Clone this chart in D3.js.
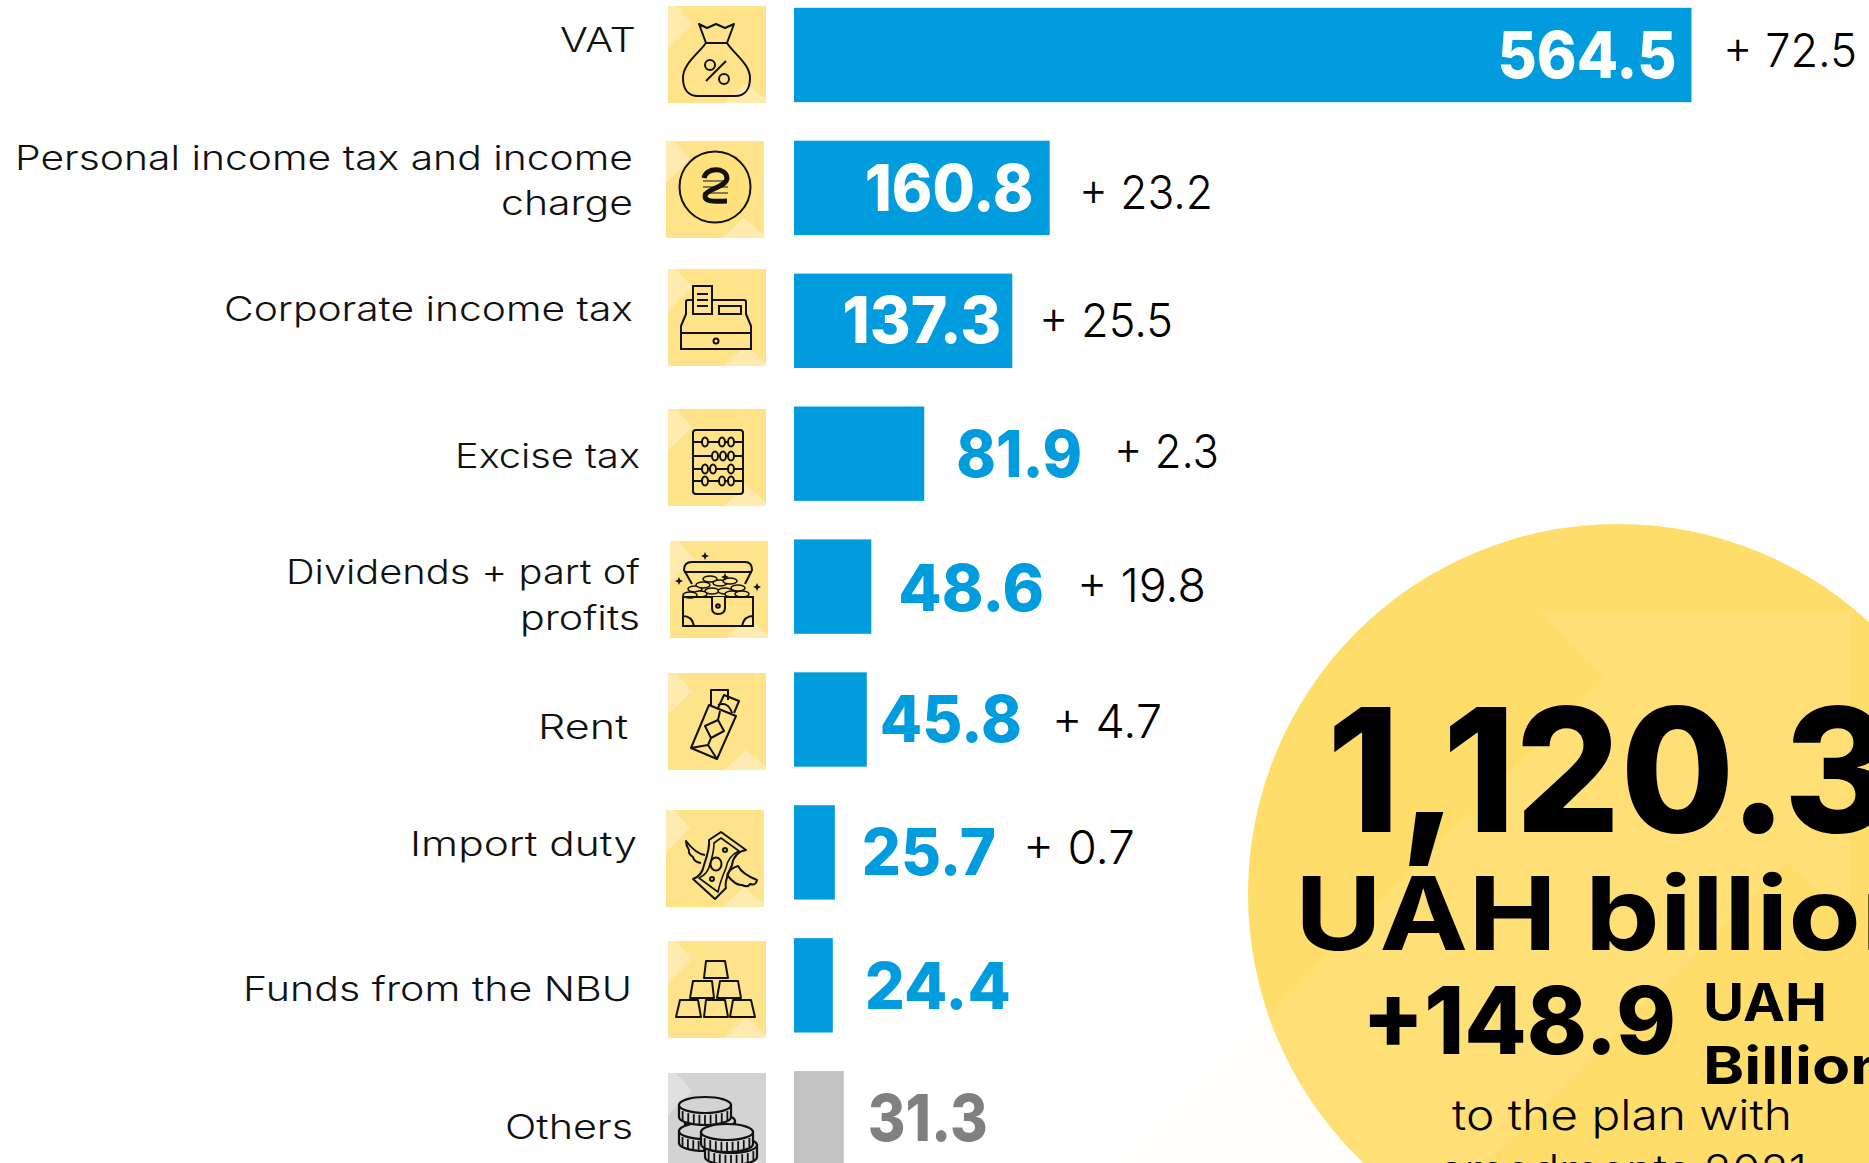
<!DOCTYPE html>
<html><head><meta charset="utf-8">
<script src="https://cdnjs.cloudflare.com/ajax/libs/d3/7.8.5/d3.min.js"></script>
<style>html,body{margin:0;padding:0;background:#fff;overflow:hidden}svg{display:block}</style>
</head><body><svg id="c" width="1869" height="1163"></svg>
<script>
// DATA
const categories = ["VAT","Personal income tax and income charge","Corporate income tax","Excise tax","Dividends + part of profits","Rent","Import duty","Funds from the NBU","Others"];
const values = [564.5,160.8,137.3,81.9,48.6,45.8,25.7,24.4,31.3];
const changes = [72.5,23.2,25.5,2.3,19.8,4.7,0.7,null,null];
const categoryLines = [["VAT"],["Personal income tax and income","charge"],["Corporate income tax"],["Excise tax"],["Dividends + part of","profits"],["Rent"],["Import duty"],["Funds from the NBU"],["Others"]];
const totalText = "1,120.3", unitText = "UAH billion", deltaText = "+148.9", deltaUnit = ["UAH","Billion"], noteLines = ["to the plan with","amedments 2021"];

// LAYOUT
const BLUE="#009CDE", GREY="#C2C2C2", GREYTXT="#808080";
const FONT="Inter, 'Noto Sans', sans-serif";
const valueOffset=[-194,-185,-170,32,27,13,27,32,24], valueWidth=[179,169,159,126,146,142,134,146,120], valueBase=[70,70,69,70,72,70,70,71,70];
const changeX=[1723,1079,1039,1114,1077,1052,1023], changeW=[134,134,134,105,129,110,112], changeBase=[67,209,337,468,602,738,864];
const labelRows=[[[636,52,76]],[[633,170,618],[633,215,132]],[[633,321,409]],[[640,468,185]],[[640,584,354],[640,630,120]],[[628,739,90]],[[637,856,227]],[[632,1001,389]],[[633,1139,128]]];
const tileX=[668,666,668,668,670,668,666,668,668], tileTop=[6,141,269,409,541,673,810,941,1073];

const svg=d3.select("#c");
const x=d3.scaleLinear().domain([0,564.5]).range([794,1691.5]);
const y=d3.scaleBand().domain(categories).range([7.8,1165.4]).paddingInner(0.29);

function fit(sel,size,weight,fill,w){sel.attr("font-family",FONT).attr("font-size",size).attr("font-weight",weight).attr("fill",fill).attr("textLength",w).attr("lengthAdjust","spacingAndGlyphs");return sel;}

// Circle
const defs=svg.append("defs");
defs.append("clipPath").attr("id","cc").append("circle").attr("cx",1618).attr("cy",894).attr("r",370);
const band="1540,612 1850,612 1850,924 1788,862 1487,1163 1120,1163 1604,678";
svg.append("polygon").attr("points",band).attr("fill","#FFFEFA");
svg.append("circle").attr("cx",1618).attr("cy",894).attr("r",370).attr("fill","#FFDD6B");
svg.append("polygon").attr("points",band).attr("fill","#FFE077").attr("clip-path","url(#cc)");

// Tiles
const ICON={
0:g=>{p(g,"M38 37 L31 18 L39 22 L48 18 L57 22 L66 18 L59 37 Z");p(g,"M38 37 C30 48 15 58 15 72 C15 83 20 90 30 90 L67 90 C77 90 82 83 82 72 C82 58 66 48 59 37");c(g,42,59,5);c(g,56,73,5);p(g,"M58 55 L38 75");},
1:g=>{g.append("circle").attr("cx",49).attr("cy",46).attr("r",38).attr("fill","#FFE27C");c(g,49,46,35.5);p(g,"M37 40H62M37 46H62M37 52H62",1);p(g,"M38 37 C40 26 60 26 61 37 C61 46 40 48 39 55 C39 62 52 60 61 60",5);},
2:g=>{r(g,25,17,19,28);p(g,"M29 25H40M29 31H40M29 37H40");r(g,51,37,22,8);p(g,"M25 31H20Q18 31 18 33V45L13 57V64M44 31H76Q78 31 78 33V45L83 57V64");r(g,13,64,70,16);c(g,48,72,2.5);},
3:g=>{g.append("rect").attr("x",25).attr("y",21).attr("width",50).attr("height",64).attr("rx",3).attr("fill","none").attr("stroke","#111").attr("stroke-width",2);
 [[33,[37,54,63]],[47,[47,55,63]],[60,[37,45,63]],[72,[37,54,63]]].forEach(([yy,b])=>{p(g,`M25 ${yy}H75`);b.forEach(bx=>g.append("ellipse").attr("cx",bx).attr("cy",yy).attr("rx",3).attr("ry",4.5).attr("fill","#FFE38A").attr("stroke","#111").attr("stroke-width",2));});},
4:g=>{p(g,"M22 43 L14 29 Q14 21 22 21 H75 Q82 21 82 29 L75 43 M14 31 H82");
 [[25,48],[33,44],[40,38],[50,42],[60,40],[68,47],[42,50],[55,50],[30,53],[62,53],[72,53],[20,54]].forEach(([a,b])=>g.append("ellipse").attr("cx",a).attr("cy",b).attr("rx",7).attr("ry",3).attr("fill","#FFE38A").attr("stroke","#111").attr("stroke-width",1.6));
 r(g,13,56,70,29);g.append("path").attr("d","M42 56 V67 Q42 73 48 73 Q55 73 55 67 V56").attr("fill","#FFE38A").attr("stroke","#111").attr("stroke-width",2);c(g,48,65,1.8);p(g,"M13 75 Q22 75 24 85 M83 75 Q74 75 72 85");
 [[35,15],[9,40],[55,36],[87,46]].forEach(([a,b])=>g.append("path").attr("d",`M${a} ${b-4}L${a+1.2} ${b-1.2}L${a+4} ${b}L${a+1.2} ${b+1.2}L${a} ${b+4}L${a-1.2} ${b+1.2}L${a-4} ${b}L${a-1.2} ${b-1.2}Z`).attr("fill","#111"));},
5:g=>{p(g,"M43 32V17H60V27M50 35L56 22L71 28L66 40M41 32L68 43L49 86L23 75Z M50 47L56 58L43 65L37 53Z M23 75L40 72L49 86M40 72L43 65M50 47L52 38M50 32Q60 28 64 40");},
6:g=>{p(g,"M55 22 L80 40 Q68 42 66 55 Q58 72 60 78 L49 89 L27 69 Q36 66 38 55 Q44 38 43 30 Z");p(g,"M55 28 L73 41 Q62 46 60 58 Q54 72 52 82 L33 68 Q42 64 44 54 Q48 42 48 33 Z",1.6);g.append("ellipse").attr("cx",50).attr("cy",54).attr("rx",5.5).attr("ry",6.5).attr("fill","none").attr("stroke","#111").attr("stroke-width",2);c(g,59,40,2);c(g,46,69,2);
 p(g,"M39 45 Q30 44 20 31 Q20 36 23 40 Q22 44 27 47 Q28 52 35 53");p(g,"M61 65 Q64 58 72 56 Q76 64 91 70 Q90 76 84 74 Q82 78 76 75 Q70 76 61 65");},
7:g=>{[[38,20,57,20,60,37,36,37],[25,40,44,40,46,57,22,57],[52,40,70,40,73,57,49,57],[12,59,30,59,33,76,8,76],[38,59,57,59,60,76,36,76],[65,59,83,59,87,76,62,76]].forEach(a=>p(g,`M${a[0]} ${a[1]}L${a[2]} ${a[3]}L${a[4]} ${a[5]}L${a[6]} ${a[7]}Z`));},
8:g=>{[[42,48,25],[36,58,25],[37,32,26],[63,72,26],[59,59,26]].forEach(([a,b,rx])=>{const h=12,ry=8;
 g.append("path").attr("d",`M${a-rx} ${b}V${b+h}A${rx} ${ry} 0 0 0 ${a+rx} ${b+h}V${b}Z`).attr("fill","#D3D3D3").attr("stroke","#111").attr("stroke-width",2.2);
 for(let t=-0.86;t<=0.87;t+=0.215){const tx=a+rx*t,dy=ry*Math.sqrt(1-t*t);g.append("line").attr("x1",tx).attr("x2",tx).attr("y1",b+dy+2).attr("y2",b+h+dy-1).attr("stroke","#111").attr("stroke-width",1.8);}
 g.append("ellipse").attr("cx",a).attr("cy",b).attr("rx",rx).attr("ry",ry).attr("fill","#D3D3D3").attr("stroke","#111").attr("stroke-width",2.2);});}
};
function p(g,d,sw){g.append("path").attr("d",d).attr("fill","none").attr("stroke","#111").attr("stroke-width",sw||2).attr("stroke-linejoin","round");}
function c(g,a,b,rad){g.append("circle").attr("cx",a).attr("cy",b).attr("r",rad).attr("fill","none").attr("stroke","#111").attr("stroke-width",2);}
function r(g,a,b,w,h){g.append("rect").attr("x",a).attr("y",b).attr("width",w).attr("height",h).attr("fill","none").attr("stroke","#111").attr("stroke-width",2);}

categories.forEach((cat,i)=>{
 const isOther=i===8;
 const g=svg.append("g").attr("transform",`translate(${tileX[i]},${tileTop[i]})`);
 g.append("rect").attr("width",98).attr("height",97).attr("fill",isOther?"#D3D3D3":"#FFE38A");
 const lite=isOther?"#E0E0E0":"#FFEBB0";
 g.append("polygon").attr("points","0,0 8,0 24,18 0,42").attr("fill",lite);
 g.append("polygon").attr("points","98,97 56,97 78,77 98,94").attr("fill",lite);
 ICON[i](g);
});

// Bars
svg.selectAll("rect.bar").data(categories).join("rect").attr("class","bar")
 .attr("x",x(0)).attr("y",d=>y(d)).attr("width",(d,i)=>x(values[i])-x(0)).attr("height",y.bandwidth())
 .attr("fill",(d,i)=>i===8?GREY:BLUE);

// Value labels
categories.forEach((cat,i)=>{
 const col=i<3?"#fff":(i===8?GREYTXT:BLUE);
 fit(svg.append("text").attr("x",x(values[i])+valueOffset[i]).attr("y",y(cat)+valueBase[i]).text(values[i].toFixed(1)),65,800,col,valueWidth[i]);
 if(changes[i]!=null) fit(svg.append("text").attr("x",changeX[i]).attr("y",changeBase[i]).text("+ "+changes[i].toFixed(1)),47,350,"#000",changeW[i]);
 categoryLines[i].forEach((t,j)=>{const q=labelRows[i][j];
  fit(svg.append("text").attr("x",q[0]-q[2]).attr("y",q[1]).text(t),33.5,350,"#111",q[2]);});
});

// Callout
fit(svg.append("text").attr("x",1327).attr("y",832).text(totalText),172,800,"#000",565);
fit(svg.append("text").attr("x",1295).attr("y",950).text(unitText),102,700,"#000",640);
fit(svg.append("text").attr("x",1362).attr("y",1054).text(deltaText),93,800,"#000",314);
fit(svg.append("text").attr("x",1703).attr("y",1021).text(deltaUnit[0]),52,700,"#000",124);
fit(svg.append("text").attr("x",1703).attr("y",1084).text(deltaUnit[1]),52,700,"#000",186);
fit(svg.append("text").attr("x",1452).attr("y",1130).text(noteLines[0]),42,350,"#000",340);
fit(svg.append("text").attr("x",1439).attr("y",1185).text(noteLines[1]),42,350,"#000",368);
</script></body></html>
